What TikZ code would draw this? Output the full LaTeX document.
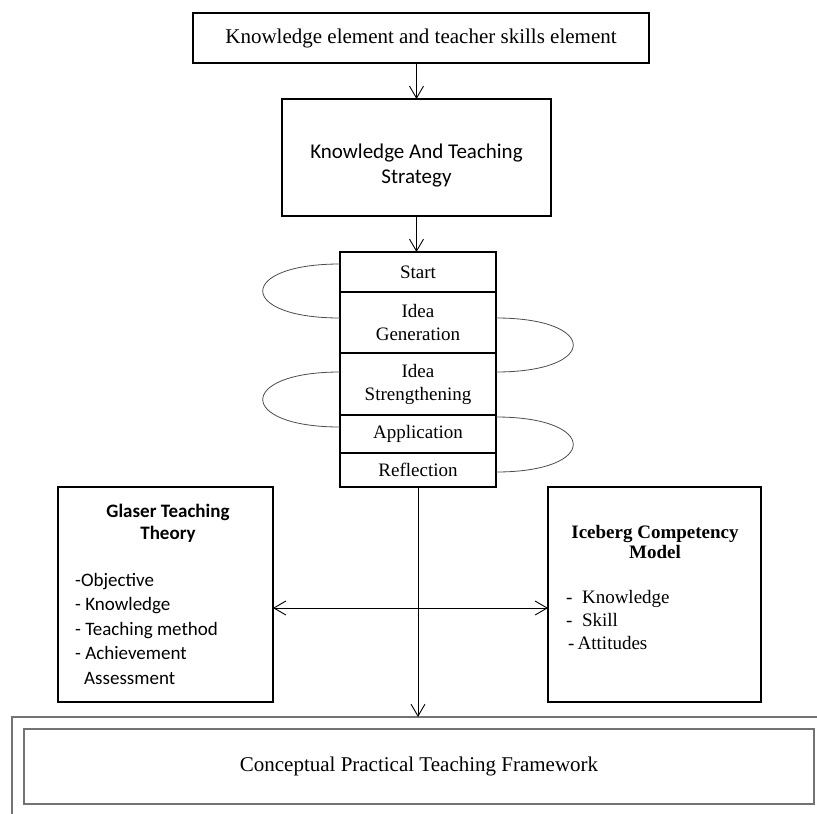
\documentclass[tikz,border=0pt]{standalone}
\usepackage{fontspec}
\setmainfont{Liberation Serif}
\newfontfamily\calibri{Carlito}
\usetikzlibrary{arrows.meta}
\usetikzlibrary{positioning}
\tikzset{
plain box/.style = { rectangle, draw = black, line width = 1.5pt, outer sep = 0pt, align = center },
stage box/.style = { rectangle, draw = black, line width = 1.5pt, outer sep = 0pt, minimum width = 156pt, inner sep = 0pt, align = center, font = \fontsize{19}{23}\selectfont },
frame box/.style = { rectangle, draw = black!55, line width = 1.2pt, outer sep = 0pt, align = center },
list text/.style = { anchor = west, inner sep = 0pt, align = left },
flow arrow/.style = { draw = black, line width = 0.9pt },
cycle line/.style = { draw = black!70, line width = 0.8pt },
>={Straight Barb[length = 12pt, width = 14pt]},
}

\begin{document}
\begin{tikzpicture}[x = 1pt, y = -1pt]
    \useasboundingbox (0, 0) rectangle (817, 814);
    % top of the flow
    \node[plain box, minimum width = 456pt, minimum height = 50pt, font = \fontsize{21}{25}\selectfont] (elements) at (421, 38) {Knowledge element and teacher skills element};
    \node[plain box, minimum width = 269pt, minimum height = 117pt, font = \calibri\fontsize{21}{25}\selectfont] (strategy) at (416.5, 157.5) {\rule{0pt}{30pt}Knowledge And Teaching\\Strategy};
    % stages
    \node[stage box, minimum height = 40pt] (start) at (418, 272) {Start};
    \node[stage box, minimum height = 61pt] (generation) at (418, 322.5) {Idea\\Generation};
    \node[stage box, minimum height = 62pt] (strengthening) at (418, 384) {Idea\\Strengthening};
    \node[stage box, minimum height = 38pt] (application) at (418, 434) {Application};
    \node[stage box, minimum height = 34pt] (reflection) at (418, 470) {Reflection};
    % theories
    \node[plain box, minimum width = 215pt, minimum height = 215pt] (glaser) at (165.5, 594.5) {};
    \node[inner sep = 0pt, align = center, font = \calibri\bfseries\fontsize{19}{22}\selectfont] (glaser title) at (168, 523) {Glaser Teaching\\Theory};
    \node[list text, font = \calibri\fontsize{19}{24.5}\selectfont] (glaser list) at (75, 628.5) {-Objective\\- Knowledge\\- Teaching method\\- Achievement\\\hspace*{9pt}Assessment};
    \node[plain box, minimum width = 213pt, minimum height = 215pt] (iceberg) at (654.5, 594.5) {};
    \node[inner sep = 0pt, align = center, font = \bfseries\fontsize{19}{20}\selectfont] (iceberg title) at (655, 542) {Iceberg Competency\\Model};
    \node[list text, font = \fontsize{19}{23}\selectfont] (iceberg list) at (566, 620) {-\ \ Knowledge\\-\ \ Skill\\\hspace*{2pt}-\,Attitudes};
    % framework
    \node[frame box, minimum width = 818pt, minimum height = 120pt] (framework outer) at (421, 777) {};
    \node[frame box, minimum width = 790pt, minimum height = 75pt, font = \fontsize{21}{25}\selectfont] (framework) at (419, 766.5) {Conceptual Practical Teaching Framework};
    % arrows
    \draw[flow arrow, ->] (strategy.north |- elements.south) -- (strategy.north);
    \draw[flow arrow, ->] (strategy.south) -- (strategy.south |- start.north);
    \draw[flow arrow, ->] (reflection.south) -- (reflection.south |- framework outer.north);
    \draw[flow arrow, <->] ([yshift = -13.5pt]glaser.east) -- ([yshift = -13.5pt]iceberg.west);
    % cycles
    \draw[cycle line] ([yshift = 8pt]start.west) .. controls +(-103, 0) and +(-103, 0) .. ([yshift = 4.5pt]generation.west);
    \draw[cycle line] ([yshift = 4.5pt]generation.east) .. controls +(103, 0) and +(103, 0) .. ([yshift = 12pt]strengthening.east);
    \draw[cycle line] ([yshift = 12pt]strengthening.west) .. controls +(-103, 0) and +(-103, 0) .. ([yshift = 7pt]application.west);
    \draw[cycle line] ([yshift = 17pt]application.east) .. controls +(103, 0) and +(103, 0) .. ([yshift = -2pt]reflection.east);
\end{tikzpicture}
\end{document}
